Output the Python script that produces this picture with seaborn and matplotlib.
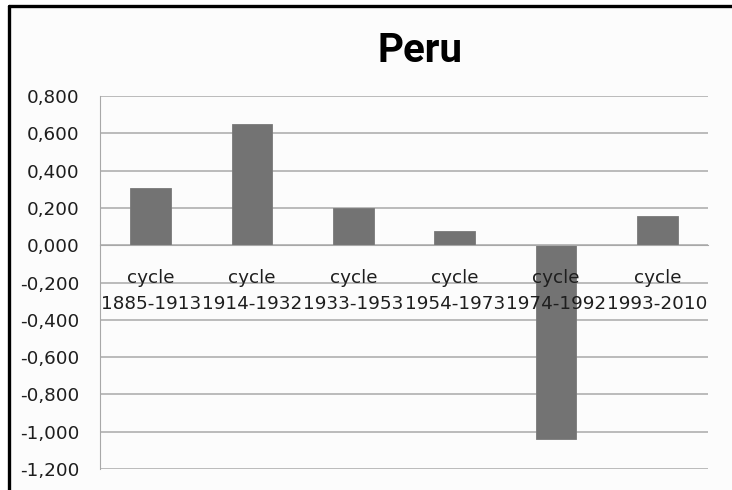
import pandas as pd
import matplotlib
matplotlib.use("Agg")
import matplotlib.pyplot as plt
import seaborn as sns
from matplotlib.patches import Rectangle
from matplotlib.lines import Line2D
from matplotlib.ticker import FixedLocator, FuncFormatter

# データ
cycles = ["cycle\n1885-1913", "cycle\n1914-1932", "cycle\n1933-1953",
          "cycle\n1954-1973", "cycle\n1974-1992", "cycle\n1993-2010"]
values = [0.306, 0.650, 0.201, 0.074, -1.038, 0.157]
title = "Peru"
y_ticks = [-1.2, -1.0, -0.8, -0.6, -0.4, -0.2, 0.0, 0.2, 0.4, 0.6, 0.8]

sns.set_style("white")
plt.rcParams['font.family'] = ['DejaVu Sans']
plt.rcParams['text.color'] = '#1e1e1e'

df = pd.DataFrame({'cycle': cycles, 'value': values})

W, H = 732, 490
fig = plt.figure(figsize=(W / 100, H / 100), dpi=100)
fig.patch.set_facecolor('white')

# チャート領域の背景と黒枠（左・上のみ）
fig.patches.append(Rectangle((9 / W, 0), 1 - 9 / W, 1 - 6 / H, transform=fig.transFigure,
                             facecolor='#fcfcfc', edgecolor='none', zorder=-5))
fig.lines.append(Line2D([9 / W, 1], [1 - 6 / H, 1 - 6 / H], transform=fig.transFigure,
                        color='black', lw=2.4))
fig.lines.append(Line2D([9 / W, 9 / W], [0, 1 - 6 / H], transform=fig.transFigure,
                        color='black', lw=2.4))

ax = fig.add_axes([100 / W, 1 - 469 / H, 608 / W, 373 / H])
ax.set_zorder(2)
ax.set_facecolor('none')

# 目盛り線は棒の後ろ、ラベルは棒の前
for yv in y_ticks:
    ax.axhline(yv, color='#b0b0b0', lw=1.2, zorder=0)

sns.barplot(data=df, x='cycle', y='value', order=cycles, color='#737373',
            saturation=1, width=0.4, ax=ax, edgecolor='#7a7a7a', linewidth=0.6, zorder=1)

ax.set_xlim(-0.5, len(cycles) - 0.5)
ax.set_ylim(-1.2, 0.8)
ax.set_yticks(y_ticks)
ax.yaxis.set_major_formatter(FuncFormatter(lambda v, p: f"{v:.3f}".replace('.', ',').replace('-0,000', '0,000')))
ax.grid(False)
ax.set_axisbelow(False)

for s in ['top', 'right']:
    ax.spines[s].set_visible(False)
ax.spines['left'].set_color('#a8a8a8')
ax.spines['bottom'].set_color('#a8a8a8')
ax.spines['bottom'].set_position(('data', 0))

# 区切り目盛りとカテゴリラベル
ax.xaxis.set_major_locator(FixedLocator([i - 0.5 for i in range(len(cycles) + 1)]))
ax.xaxis.set_major_formatter(FuncFormatter(lambda v, p: ''))
ax.xaxis.set_minor_locator(FixedLocator(list(range(len(cycles)))))
ax.set_xticklabels(cycles, minor=True)
ax.tick_params(axis='x', which='major', direction='out', length=5, color='#a8a8a8')
ax.tick_params(axis='x', which='minor', length=0, pad=17, labelsize=13.2, labelcolor='#1e1e1e')
for lbl in ax.get_xticklabels(minor=True):
    lbl.set_linespacing(1.55)
ax.tick_params(axis='y', direction='out', length=5, color='#a8a8a8', pad=10,
               labelsize=13.2, labelcolor='#1e1e1e')
ax.set_xlabel('')
ax.set_ylabel('')

fig.text(420 / W, 1 - 62 / H, title, ha='center', va='baseline', fontsize=29,
         fontweight='bold', family=['Roboto', 'DejaVu Sans'], color='black')

fig.savefig('out.png', dpi=100)
